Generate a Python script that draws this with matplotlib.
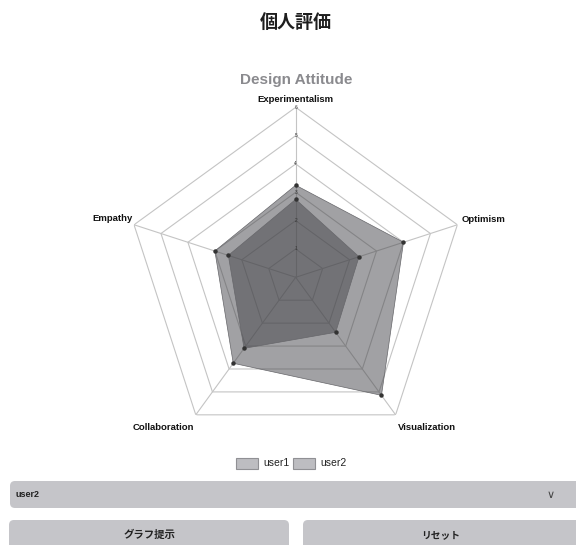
# -*- coding: utf-8 -*-
# 個人評価 radar chart (Design Attitude)
import numpy as np
import matplotlib
matplotlib.use('Agg')
import matplotlib.pyplot as plt
from matplotlib.patches import FancyBboxPatch, Rectangle

''' data '''
labels = ['Experimentalism', 'Optimism', 'Visualization', 'Collaboration', 'Empathy']
user1 = [3.25, 4.0, 5.15, 3.75, 3.0]
user2 = [2.75, 2.35, 2.4, 3.1, 2.5]
series_names = ['user1', 'user2']
r_ticks = [1, 2, 3, 4, 5, 6]
r_max = 6

title_main = '個人評価'
title_chart = 'Design Attitude'
select_text = 'user2'
btn_texts = ['グラフ提示', 'リセット']

W, H = 576, 545
fig = plt.figure(figsize=(W / 100, H / 100), dpi=100)
jp = ['Noto Sans CJK JP', 'DejaVu Sans']

# UI layer in pixel units
ui = fig.add_axes([0, 0, 1, 1])
ui.set_xlim(0, W)
ui.set_ylim(H, 0)
ui.axis('off')

ui.text(296, 22, title_main, ha='center', va='center', fontsize=13,
        fontweight='bold', family=jp, color='#1e1e1e')
ui.text(296, 80, title_chart, ha='center', va='center', fontsize=11,
        fontweight='bold', family='Liberation Sans', color='#8a8a8e')

# legend
fill_c = '#45454a'
for i, name in enumerate(series_names):
    x0 = 236 + i * 57
    ui.add_patch(Rectangle((x0, 458), 22, 11, facecolor='#bdbdc1',
                           edgecolor='#909094', lw=0.8))
    ui.text(x0 + 27, 463.5, name, ha='left', va='center', fontsize=7.5,
            family='Liberation Sans', color='#222222')

# select box
ui.add_patch(FancyBboxPatch((10, 481), 600, 27, boxstyle='round,pad=0,rounding_size=5',
                            facecolor='#c5c5c9', edgecolor='none'))
ui.text(15, 494.5, select_text, ha='left', va='center', fontsize=6.5,
        fontweight='bold', family='Liberation Sans', color='#222222')
ui.text(551, 494.5, '∨', ha='center', va='center', fontsize=8,
        family='DejaVu Sans', color='#444444')

# buttons
ui.add_patch(FancyBboxPatch((9, 520), 280, 40, boxstyle='round,pad=0,rounding_size=5',
                            facecolor='#c5c5c9', edgecolor='none'))
ui.add_patch(FancyBboxPatch((303, 520), 300, 40, boxstyle='round,pad=0,rounding_size=5',
                            facecolor='#c5c5c9', edgecolor='none'))
ui.text(150, 535, btn_texts[0], ha='center', va='center', fontsize=7.5,
        fontweight='bold', family=jp, color='#222222')
ui.text(441, 535, btn_texts[1], ha='center', va='center', fontsize=7,
        fontweight='bold', family=jp, color='#222222')

''' radar '''
cx, cy, R = 295.7, 277.3, 170.0
ax = fig.add_axes([(cx - R) / W, (H - cy - R) / H, 2 * R / W, 2 * R / H],
                  projection='polar')
ax.patch.set_alpha(0)
ax.set_theta_offset(np.pi / 2)
ax.set_theta_direction(-1)
ax.set_ylim(0, r_max)
ax.spines['polar'].set_visible(False)
ax.grid(False)
ax.set_xticks([])
ax.set_yticks([])

n = len(labels)
angles = [2 * np.pi * k / n for k in range(n)]
closed = angles + angles[:1]

grid_c = '#c4c4c4'
for r in r_ticks:
    ax.plot(closed, [r] * (n + 1), color=grid_c, lw=0.8, zorder=1)
for a in angles:
    ax.plot([a, a], [0, r_max], color=grid_c, lw=0.8, zorder=1)

for vals in [user1, user2]:
    v = vals + vals[:1]
    ax.fill(closed, v, color=fill_c, alpha=0.5, lw=0, zorder=2)
    ax.plot(closed, v, color='#66666a', lw=0.5, zorder=3)
    ax.plot(angles, vals, 'o', ms=2.2, color='#333333', zorder=4)

# tick labels on the top axis
for r in r_ticks:
    ax.text(0, r, str(r), ha='center', va='center', fontsize=3.5,
            color='#333333', family='Liberation Sans', zorder=5)

# category labels
offs = [((0, 3), 'center', 'bottom'),
        ((4, 5), 'left', 'center'),
        ((2, -13), 'left', 'center'),
        ((-2, -13), 'right', 'center'),
        ((-1, 6), 'right', 'center')]
for a, lab, (o, ha, va) in zip(angles, labels, offs):
    ax.annotate(lab, xy=(a, r_max), xytext=o, textcoords='offset pixels',
                ha=ha, va=va, fontsize=6.8, fontweight='bold',
                family='Liberation Sans', color='#111111', annotation_clip=False)

plt.savefig('out.png', dpi=100)
